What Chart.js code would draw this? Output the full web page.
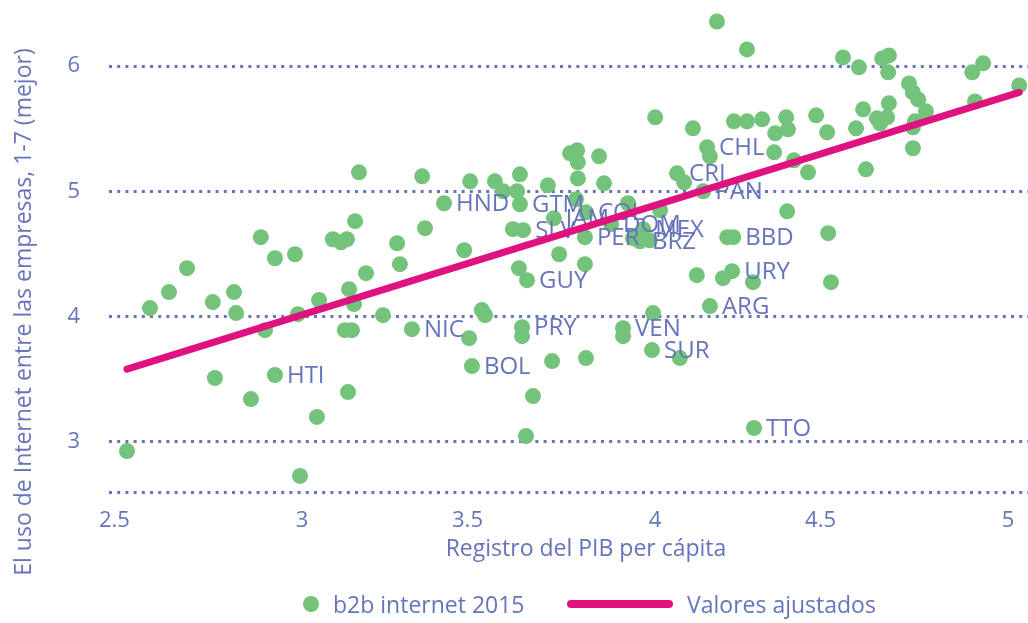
<!DOCTYPE html>
<html>
<head>
    <title>b2b internet 2015</title>
    <script src="https://cdn.jsdelivr.net/npm/chart.js"></script>
    <style>
        html, body { margin: 0; background: #fff; overflow: hidden; }
        canvas { display: block; }
    </style>
</head>
<body>
    <canvas id="b2bChart" width="1028" height="623"></canvas>

    <script>
        // labelled countries
        const codes = ['HTI','NIC','BOL','PRY','GUY','HND','GTM','SLV','JAM','COL','PER','DOM','MEX','BRZ','VEN','SUR','CRI','CHL','PAN','BBD','URY','ARG','TTO'];
        const codeGdp = [2.939,3.327,3.497,3.639,3.653,3.418,3.633,3.642,3.729,3.820,3.817,3.891,3.982,3.973,3.925,4.007,4.078,4.163,4.152,4.237,4.234,4.171,4.296];
        const codeB2b = [3.534,3.900,3.605,3.916,4.291,4.905,4.897,4.690,4.785,4.833,4.634,4.738,4.698,4.602,3.908,3.733,5.144,5.352,5.001,4.634,4.363,4.084,3.111];

        // other countries (no label)
        const otherGdp = [2.520,2.585,2.639,2.690,2.763,2.769,2.823,2.829,2.871,2.899,
            2.911,2.939,2.996,3.004,3.010,3.058,3.064,3.103,3.126,3.143,
            3.149,3.163,3.137,3.157,3.146,3.166,3.177,3.197,3.245,3.285,
            3.293,3.356,3.364,3.475,3.489,3.492,3.525,3.534,3.562,3.585,
            3.625,3.633,3.613,3.630,3.639,3.650,3.670,3.712,3.724,3.744,
            3.775,3.795,3.797,3.797,3.792,3.817,3.820,3.857,3.871,3.939,
            4.030,4.001,3.953,4.016,4.010,3.925,4.086,4.098,4.123,4.171,
            4.191,4.276,4.239,4.276,4.319,4.387,4.392,4.356,4.353,4.409,
            4.449,4.472,4.503,4.390,4.220,4.506,4.134,4.208,4.293,4.514,
            4.548,4.593,4.659,4.678,4.676,4.914,4.945,5.047,4.735,4.746,
            4.761,4.783,4.678,4.605,4.644,4.673,4.653,4.585,4.746,4.752,
            4.746,4.922,4.613];
        const otherB2b = [2.927,4.068,4.196,4.387,4.116,3.510,4.196,4.028,3.342,4.634,
            3.892,4.466,4.498,4.020,2.728,3.199,4.132,4.618,4.594,4.618,
            4.219,4.100,3.892,3.892,3.398,4.762,5.152,4.347,4.012,4.586,
            4.419,5.120,4.706,4.530,3.828,5.080,4.052,4.012,5.080,5.001,
            5.001,5.136,4.698,4.387,3.844,3.047,3.366,5.048,3.645,4.498,
            5.304,5.328,5.232,5.103,4.937,4.419,3.669,5.280,5.064,4.905,
            4.849,4.610,4.626,5.591,4.028,3.844,3.669,5.072,5.503,5.280,
            6.356,6.133,5.559,5.559,5.575,5.591,5.495,5.463,5.312,5.248,
            5.152,5.607,5.471,4.841,4.634,4.666,4.331,4.307,4.275,4.275,
            6.069,5.990,6.061,6.085,5.950,5.950,6.022,5.846,5.862,5.790,
            5.734,5.639,5.703,5.655,5.583,5.591,5.543,5.503,5.511,5.559,
            5.344,5.718,5.176];

        // fitted values (two ends of the line)
        const fitGdp = [2.520, 5.047];
        const fitB2b = [3.581, 5.790];

        const xTicks = [2.5, 3, 3.5, 4, 4.5, 5];
        const yTicks = [2.6, 3, 4, 5, 6];   // 2.6 = bottom line, no label

        const blue = '#6674bc';
        const green = '#73c37a';
        const pink = '#e0127f';
        const fontName = '"Open Sans"';

        const pointCodes = codes.concat(otherGdp.map(() => ''));
        const scatterData = codeGdp.map((x, i) => ({ x: x, y: codeB2b[i] }))
            .concat(otherGdp.map((x, i) => ({ x: x, y: otherB2b[i] })));
        const fitData = fitGdp.map((x, i) => ({ x: x, y: fitB2b[i] }));

        const extras = {
            id: 'extras',
            // country codes go on top of the dots but under the fitted line
            afterDatasetDraw(chart, args) {
                if (args.index !== 0) return;
                const ctx = chart.ctx;
                ctx.save();
                ctx.font = '24px ' + fontName;
                ctx.fillStyle = blue;
                ctx.textBaseline = 'alphabetic';
                args.meta.data.forEach((pt, i) => {
                    if (pointCodes[i]) ctx.fillText(pointCodes[i], pt.x + 12, pt.y + 8);
                });
                ctx.restore();
            },
            afterDraw(chart) {
                const ctx = chart.ctx;
                ctx.save();
                ctx.fillStyle = blue;
                ctx.font = '23px ' + fontName;
                ctx.textBaseline = 'alphabetic';

                // axis titles
                ctx.textAlign = 'center';
                ctx.fillText('Registro del PIB per cápita', 586, 556);
                ctx.save();
                ctx.translate(31, 312);
                ctx.rotate(-Math.PI / 2);
                ctx.fillText('El uso de Internet entre las empresas, 1-7 (mejor)', 0, 0);
                ctx.restore();

                // legend
                ctx.textAlign = 'left';
                ctx.beginPath();
                ctx.arc(311, 604, 8, 0, Math.PI * 2);
                ctx.fillStyle = green;
                ctx.fill();
                ctx.fillStyle = blue;
                ctx.fillText('b2b internet 2015', 333, 613);

                ctx.beginPath();
                ctx.moveTo(571, 604);
                ctx.lineTo(669, 604);
                ctx.lineWidth = 8;
                ctx.lineCap = 'round';
                ctx.strokeStyle = pink;
                ctx.stroke();
                ctx.fillText('Valores ajustados', 687, 613);
                ctx.restore();
            }
        };

        new Chart(document.getElementById('b2bChart'), {
            type: 'scatter',
            data: {
                datasets: [{
                    label: 'b2b internet 2015',
                    data: scatterData,
                    backgroundColor: green,
                    borderWidth: 0,
                    pointRadius: 8,
                    clip: false,
                    order: 1
                }, {
                    label: 'Valores ajustados',
                    type: 'line',
                    data: fitData,
                    borderColor: pink,
                    borderWidth: 7,
                    borderCapStyle: 'round',
                    pointRadius: 0,
                    fill: false,
                    clip: false,
                    order: 0
                }]
            },
            options: {
                responsive: false,
                animation: false,
                events: [],
                layout: { autoPadding: false, padding: { top: 15.5, right: 0, bottom: 0, left: 0 } },
                plugins: {
                    legend: { display: false },
                    tooltip: { enabled: false }
                },
                scales: {
                    x: {
                        type: 'linear',
                        min: 2.469,
                        max: 5.072,
                        afterBuildTicks: s => { s.ticks = xTicks.map(v => ({ value: v })); },
                        afterFit: s => {
                            s.height = 131;
                            s.paddingLeft = 0;
                            s.paddingRight = 0;
                        },
                        grid: { display: false, drawTicks: false },
                        border: { display: false },
                        ticks: {
                            color: blue,
                            font: { family: fontName, size: 22 },
                            padding: 16,
                            maxRotation: 0,
                            // whole numbers sit a little right of their tick, decimals a little left
                            callback: v => (Number.isInteger(v) ? '\u2002' + v : v + '\u2002')
                        }
                    },
                    y: {
                        min: 2.6,
                        max: 6.404,
                        afterBuildTicks: s => { s.ticks = yTicks.map(v => ({ value: v })); },
                        afterFit: s => {
                            s.width = 109;
                            s.paddingTop = 0;
                            s.paddingBottom = 0;
                        },
                        grid: { color: blue, lineWidth: 3, drawTicks: false },
                        border: { display: false, dash: [3, 5.2] },
                        ticks: {
                            color: blue,
                            font: { family: fontName, size: 22 },
                            padding: 29,
                            callback: v => (v === 2.6 ? '' : String(v))
                        }
                    }
                }
            },
            plugins: [extras]
        });
    </script>
</body>
</html>
